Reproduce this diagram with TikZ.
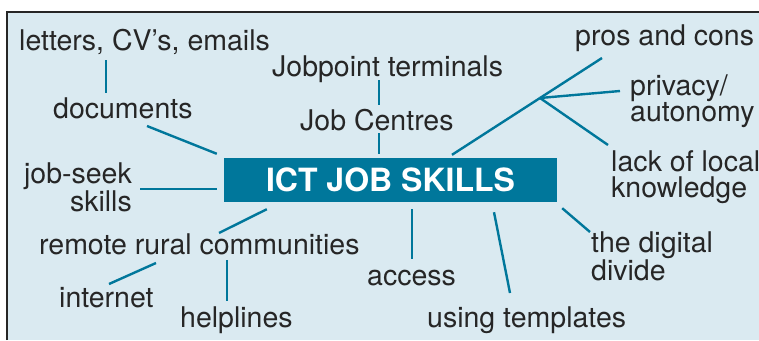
\documentclass[tikz,border=0pt]{standalone}
\usepackage{fontspec}
\setmainfont{TeX Gyre Heros}
\usepackage{tikz}

\definecolor{skillblue}{HTML}{00779B}
\definecolor{paleblue}{HTML}{DAEAF1}
\definecolor{inkgrey}{HTML}{262626}

\begin{document}
\begin{tikzpicture}[x=1pt, y=-1pt,
  word/.style={anchor=base west, inner sep=0pt, text=inkgrey,
    font=\fontsize{28.5}{26}\selectfont},
  link/.style={-, draw=skillblue, line width=2.4pt}]

\useasboundingbox (0,0) rectangle (759,340);
\fill[paleblue] (7,12) rectangle (759,340);
\draw[inkgrey, line width=2pt] (7,340) -- (7,12) -- (759,12);

\node[fill=skillblue, text=white, inner sep=0pt, minimum width=333pt, minimum height=44pt,
  font=\fontsize{32}{32}\selectfont\bfseries] (core) at (390.5,180) {ICT JOB SKILLS};

% two-line labels sit on the baseline of their last line
\node[word] (letters) at (19,50) {letters, CV’s, emails};
\node[word] (docs) at (53,118) {documents};
\node[word] (jobpoint) at (272,76) {Jobpoint terminals};
\node[word] (centres) at (300,130) {Job Centres};
\node[word] (pros) at (575,45) {pros and cons};
\node[word, align=left] (privacy) at (630,121) {privacy/\\autonomy};
\node[word, align=left] (lack) at (611,197) {lack of local\\knowledge};
\node[word, anchor=base east, align=right] (seek) at (132,211) {job-seek\\skills};
\node[word] (remote) at (39,254) {remote rural communities};
\node[word] (internet) at (59,307) {internet};
\node[word] (help) at (180,327) {helplines};
\node[word] (access) at (367,285) {access};
\node[word, align=left] (digital) at (591,280) {the digital\\divide};
\node[word] (templates) at (427,327) {using templates};

\coordinate (fork) at (540,98);

\draw[link] ([shift={(87,10)}]letters.base west) -- ([shift={(53,-25)}]docs.base west);
\draw[link] ([shift={(94,8)}]docs.base west) -- ([shift={(-7,-4)}]core.north west);
\draw[link] ([shift={(107,4)}]jobpoint.base west) -- ([shift={(79,-25)}]centres.base west);
\draw[link] ([shift={(79,3)}]centres.base west) -- ([shift={(-11.5,-4)}]core.north);
\draw[link] ([shift={(61.5,-3)}]core.north) -- (fork);
\draw[link] (fork) -- ([shift={(27,13)}]pros.base west);
\draw[link] (fork) -- ([shift={(-10,-30)}]privacy.base west);
\draw[link] (fork) -- ([shift={(-3,-52)}]lack.base west);
\draw[link] ([shift={(8,-22)}]seek.base east) -- ([shift={(-7,9)}]core.west);
\draw[link] ([shift={(43,7)}]core.south west) -- ([shift={(180,-21)}]remote.base west);
\draw[link] ([shift={(117,9)}]remote.base west) -- ([shift={(50,-23)}]internet.base west);
\draw[link] ([shift={(188,6)}]remote.base west) -- ([shift={(47,-26)}]help.base west);
\draw[link] ([shift={(21.5,7)}]core.south) -- ([shift={(45,-26)}]access.base west);
\draw[link] ([shift={(103.5,10)}]core.south) -- ([shift={(83,-34)}]templates.base west);
\draw[link] ([shift={(5,6)}]core.south east) -- ([shift={(-1,-48)}]digital.base west);

\end{tikzpicture}
\end{document}
